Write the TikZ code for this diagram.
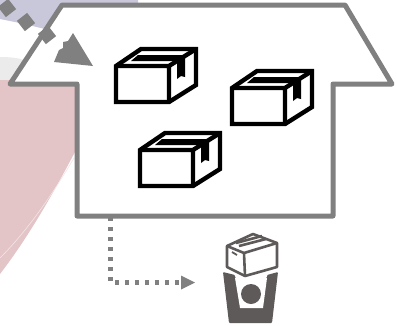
\documentclass[tikz,border=0pt]{standalone}
\definecolor{wall}{HTML}{808080}
\definecolor{lav}{HTML}{C9C8DA}
\definecolor{blush}{HTML}{E3C5C7}
\definecolor{mist}{HTML}{EBEBEB}
\definecolor{icon}{HTML}{5E5A5A}
\tikzset{
  wallline/.style={draw=wall,line width=5pt,line join=round,fill=white},
  flow/.style={draw=wall,line width=4.4pt,dash pattern=on 4.4pt off 5.6pt},
  tip/.style={fill=wall,draw=none},
  cartonline/.style={draw=black,line width=4.4pt,line join=miter},
  carton/.pic={
    \fill[white] (0,0)--(25,-17)--(80,-17)--(80,19)--(53,36)--(0,36)--cycle;
    \fill[black] (22,-11)--(69,-11)--(61,-5)--(15,-5)--cycle;
    \fill[black] (68,-10)--(80,-17)--(74,-17)--(74,-12)--(68,-12)--cycle;
    \fill[black] (69,-11)--(61,-6)--(61,13)--(65,10)--(69,11)--cycle;
    \draw[cartonline] (0,0)--(25,-17)--(80,-17)--(80,19)--(53,36)--(0,36)--cycle;
    \draw[cartonline] (0,0)--(53,0)--(53,36) (53,0)--(80,-17);
  }
}
\begin{document}
\begin{tikzpicture}[x=1pt,y=-1pt]
\useasboundingbox (0,0) rectangle (397,325);
\fill[white] (0,0) rectangle (397,325);
% background
\fill[lav] (0,0)--(138,0)--(138,3)--(62,3)--(45,29)--(20,23)--(0,19)--cycle;
\fill[mist] (0,57) .. controls (10,57) and (18,58) .. (24,60) -- (12,80) -- (0,80) -- cycle;
\fill[blush] (0,80)--(76,80)--(76,150) .. controls (55,190) and (30,235) .. (0,274) -- cycle;
\draw[white!55!blush,line width=.6pt] (74,158) .. controls (55,190) and (30,228) .. (0,258);
% warehouse
\draw[wallline] (62,5)--(345,5)--(392,84)--(333,84)--(333,216)--(77,216)--(77,84)--(10,84)--cycle;
% cartons
\pic at (116,66) {carton};
\pic at (232,88) {carton};
\pic at (140,150) {carton};
% inbound arrow
\foreach \x/\y in {7/8,26/22,47/35} \fill[wall,rotate around={38:(\x,\y)}] (\x-6.5,\y-6.5) rectangle (\x+6.5,\y+6.5);
\fill[tip] (73,33)--(93,66)--(54,62)--(59,50)--(63,48)--(63,42)--(68,41)--cycle;
% outbound connector
\coordinate (outA) at (110.5,217);
\coordinate (outB) at (110.5,282.5);
\coordinate (outC) at (183,282.5);
\draw[flow] (outA)--(outB)--(outC);
\fill[tip] (181,275.5)--(195,282.5)--(181,289.5)--cycle;
% customer bin
\fill[icon,rounded corners=1pt] (223,272)--(235,275)--(235,278)--(267,278)--(267,275)--(278,272)--(272,323)--(229,323)--cycle;
\fill[white] (235,278)--(267,278)--(263,308)--(240,308)--cycle;
\fill[icon] (251,294) circle (10);
\begin{scope}[draw=icon,line width=2.6pt,line join=round]
\draw[fill=white] (227,246)--(253,234)--(277,243)--(277,267)--(245,276)--(227,267)--cycle;
\draw (227,246)--(244,253)--(277,243) (244,253)--(245,276);
\draw (236,243)--(262,236) (239,246)--(266,239);
\draw[line width=1.8pt] (232,252)--(237,255);
\end{scope}
\end{tikzpicture}
\end{document}
